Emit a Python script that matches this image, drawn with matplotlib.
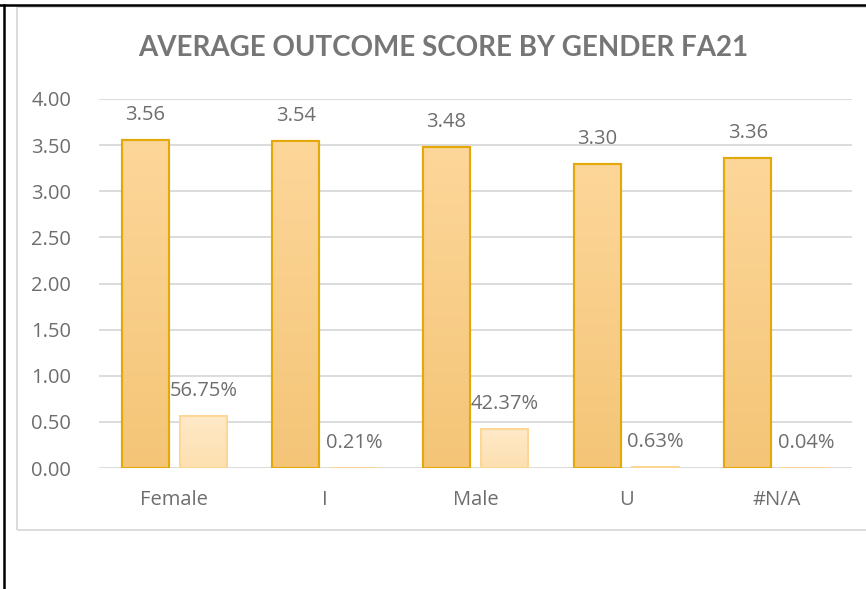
import matplotlib
matplotlib.use("Agg")
import matplotlib.pyplot as plt
import numpy as np
from matplotlib.lines import Line2D
from matplotlib.patches import Rectangle

categories = ["Female", "I", "Male", "U", "#N/A"]
avg_scores = [3.56, 3.54, 3.48, 3.30, 3.36]
share = [0.5675, 0.0021, 0.4237, 0.0063, 0.0004]
y_ticks = [0.0, 0.5, 1.0, 1.5, 2.0, 2.5, 3.0, 3.5, 4.0]
title = "AVERAGE OUTCOME SCORE BY GENDER FA21"

W, H = 866, 589
fig = plt.figure(figsize=(W / 100, H / 100), dpi=100)
plt.rcParams['font.family'] = ['Open Sans', 'DejaVu Sans']
FS = 14.5
TXT = "#6e6e6e"

def fx(px):
    return px / W

def fy(py):
    return 1 - py / H

# outer frame lines
fig.add_artist(Line2D([0, 1], [fy(5), fy(5)], color="black", lw=1.8, transform=fig.transFigure))
fig.add_artist(Line2D([fx(3.5), fx(3.5)], [fy(5), 0], color="black", lw=1.8, transform=fig.transFigure))
# chart box
fig.add_artist(Rectangle((fx(17), fy(530)), 1.2, fy(7) - fy(530), fill=False,
                         edgecolor="#d9d9d9", lw=1.3, transform=fig.transFigure))

ax = fig.add_axes([fx(99), fy(468), fx(852) - fx(99), fy(99) - fy(468)])
for s in ax.spines.values():
    s.set_visible(False)
ax.set_yticks(y_ticks)
ax.set_yticklabels([f"{v:.2f}" for v in y_ticks], fontsize=FS, color=TXT)
ax.tick_params(axis="y", length=0, pad=20)
ax.tick_params(axis="x", length=0, pad=16)
ax.set_xticks(range(len(categories)))
ax.set_xticklabels(categories, fontsize=FS, color=TXT)
ax.grid(axis="y", color="#d9d9d9", lw=1.3)
ax.set_axisbelow(True)

x = np.arange(len(categories))
bw = 0.312
off = 0.193

def grad_bars(xs, vals, top, bottom, edge, lw):
    bars = ax.bar(xs, vals, width=bw, color=top, edgecolor=edge, linewidth=lw, zorder=2)
    grad = np.linspace(0, 1, 100).reshape(-1, 1)
    c1 = np.array(matplotlib.colors.to_rgb(top))
    c2 = np.array(matplotlib.colors.to_rgb(bottom))
    img = c2[None, None, :] * (1 - grad[:, :, None]) + c1[None, None, :] * grad[:, :, None]
    for b in bars:
        x0, y0 = b.get_x(), b.get_y()
        w, h = b.get_width(), b.get_height()
        if h <= 0:
            continue
        im = ax.imshow(img, extent=(x0, x0 + w, y0, y0 + h), origin="lower",
                       aspect="auto", zorder=2.1, interpolation="bilinear")
        im.set_clip_path(b)
        e = Rectangle((x0, y0), w, h, fill=False, edgecolor=edge, lw=lw, zorder=2.2)
        ax.add_patch(e)
    return bars

grad_bars(x - off, avg_scores, "#fdd699", "#f4c577", "#e3a90a", 1.5)
grad_bars(x + off, share, "#ffe9c8", "#fde0b0", "#fdd590", 1.2)
ax.set_xlim(-0.5, len(categories) - 0.5)
ax.set_ylim(0, 4.0)

for xi, v in zip(x - off, avg_scores):
    ax.annotate(f"{v:.2f}", (xi, v), xytext=(0, 18), textcoords="offset points",
                ha="center", va="center", fontsize=FS, color=TXT)
for xi, v in zip(x + off, share):
    ax.annotate(f"{v*100:.2f}%", (xi, v), xytext=(0, 18), textcoords="offset points",
                ha="center", va="center", fontsize=FS, color=TXT)

fig.text(fx(443), fy(48), title, ha="center", va="center", fontsize=20,
         fontweight="bold", color="#767676", family=["Lato", "DejaVu Sans"])

fig.savefig("out.png", dpi=100)
